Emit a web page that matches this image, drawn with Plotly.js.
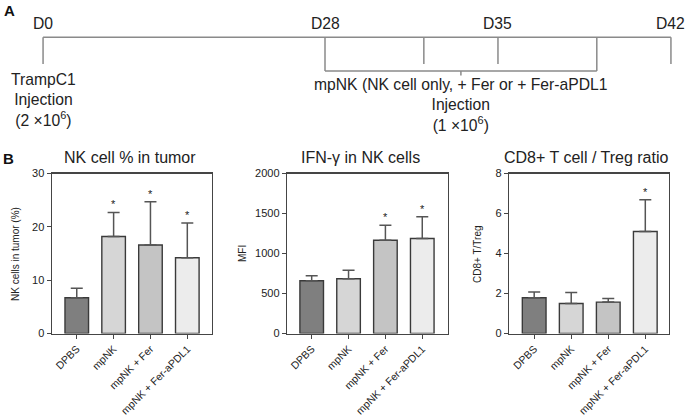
<!DOCTYPE html>
<html>
<head>
<meta charset="utf-8">
<script src="https://cdn.plot.ly/plotly-3.0.1.min.js"></script>
<style>html,body{margin:0;padding:0;background:#fff;}#chart{width:685px;height:419px;}</style>
</head>
<body>
<div id="chart"></div>
<script>
// ---- Data ----
const groups = ['DPBS', 'mpNK', 'mpNK + Fer', 'mpNK + Fer-aPDL1'];

const nkPct = [6.7, 18.2, 16.6, 14.2];
const nkPctErr = [1.8, 4.5, 8.1, 6.5];
const nkPctSig = [false, true, true, true];

const ifngMfi = [660, 685, 1165, 1187];
const ifngMfiErr = [63, 105, 188, 271];
const ifngSig = [false, false, true, true];

const cd8Treg = [1.79, 1.5, 1.57, 5.1];
const cd8TregErr = [0.29, 0.55, 0.18, 1.59];
const cd8Sig = [false, false, false, true];

const panelTitles = ['NK cell % in tumor', 'IFN-\u03b3 in NK cells', 'CD8+ T cell / Treg ratio'];
const yTitles = ['NK cells in tumor (%)', 'MFI', 'CD8+ T/Treg'];

// timeline (panel A)
const tlDays = [0, 28, 32, 35, 39, 42];
const tlLabels = ['D0', 'D28', '', 'D35', '', 'D42'];
const injectionDays = [28, 39];

// ---- Styling / layout ----
const W = 685, H = 419;
const FONT = 'Liberation Sans, Arial, Helvetica, sans-serif';
const barColors = ['#7f7f7f', '#d6d6d6', '#c4c4c4', '#ececec'];
const py = v => 1 - v / H;   // pixel-from-top to paper
const px = v => v / W;

// schematic timeline axis: D0 drawn before an axis break
const D0_POS = 16.59;
const tlPos = d => (d === 0 ? D0_POS : d);

const panels = [
  {y: nkPct, e: nkPctErr, sig: nkPctSig, range: [0, 30], dtick: 10, dom: [51.7, 212], xr: [-0.68, 3.67], ytx: 15, tx: 130},
  {y: ifngMfi, e: ifngMfiErr, sig: ifngSig, range: [0, 2000], dtick: 500, dom: [287, 447.7], xr: [-0.67, 3.69], ytx: 242, tx: 360},
  {y: cd8Treg, e: cd8TregErr, sig: cd8Sig, range: [0, 8], dtick: 2, dom: [509, 669], xr: [-0.68, 3.64], ytx: 477, tx: 586}
];

const data = [];
const layout = {
  width: W, height: H,
  margin: {l: 0, r: 0, t: 0, b: 0},
  paper_bgcolor: '#fff', plot_bgcolor: 'rgba(0,0,0,0)',
  showlegend: false,
  font: {family: FONT, color: '#222'},
  annotations: [], shapes: []
};

const yDom = [py(333.5), py(173.5)];

panels.forEach((p, i) => {
  const n = i + 1;
  const sfx = n === 1 ? '' : String(n);
  const xa = 'x' + sfx, ya = 'y' + sfx;
  data.push({
    type: 'bar', x: groups, y: p.y, xaxis: xa, yaxis: ya, width: 0.64,
    marker: {color: barColors, line: {color: '#3a3a3a', width: 1.4}},
    error_y: {type: 'data', symmetric: false, array: p.e, arrayminus: p.e.map(() => 0),
              color: '#555', thickness: 1.5, width: 6},
    hoverinfo: 'skip'
  });
  layout['xaxis' + sfx] = {
    domain: [px(p.dom[0]), px(p.dom[1])], anchor: ya, type: 'category', range: p.xr,
    showline: true, linecolor: '#454545', linewidth: 1.2, mirror: true,
    ticks: 'outside', ticklen: 4, tickcolor: '#454545', tickwidth: 1,
    tickangle: -45, tickfont: {size: 10.5, color: '#222', family: FONT},
    showgrid: false, zeroline: false, fixedrange: true
  };
  layout['yaxis' + sfx] = {
    domain: yDom, anchor: xa, range: p.range, dtick: p.dtick,
    showline: true, linecolor: '#454545', linewidth: 1.2, mirror: true,
    ticks: 'outside', ticklen: 4, tickcolor: '#454545', tickwidth: 1,
    tickfont: {size: 11, color: '#222', family: FONT},
    showgrid: false, zeroline: false, fixedrange: true
  };
  // significance stars
  groups.forEach((g, k) => {
    if (p.sig[k]) {
      layout.annotations.push({
        xref: xa, yref: ya, x: g, y: p.y[k] + p.e[k], text: '*', showarrow: false,
        yanchor: 'bottom', xanchor: 'center', yshift: 0,
        font: {size: 11, color: '#222', family: FONT}
      });
    }
  });
  // panel title
  layout.annotations.push({
    xref: 'paper', yref: 'paper', x: px(p.tx), y: py(157.5), xanchor: 'center', yanchor: 'middle',
    text: panelTitles[i], showarrow: false, font: {size: 16, color: '#222', family: FONT}
  });
  // y axis title
  layout.annotations.push({
    xref: 'paper', yref: 'paper', x: px(p.ytx), y: py(254), xanchor: 'center', yanchor: 'middle',
    text: yTitles[i], textangle: -90, showarrow: false, font: {size: 10, color: '#222', family: FONT}
  });
});

// ---- Timeline (panel A) on a hidden schematic day axis ----
const pxPerDay = 24.71;
const tlX0 = 28 - 325 / pxPerDay;
layout.xaxis4 = {domain: [0, 1], range: [tlX0, tlX0 + W / pxPerDay], visible: false, fixedrange: true, anchor: 'y4'};
layout.yaxis4 = {domain: [0, 1], range: [H, 0], visible: false, fixedrange: true, anchor: 'x4'};
data.push({type: 'scatter', mode: 'markers', x: [tlPos(tlDays[0])], y: [-50], xaxis: 'x4', yaxis: 'y4', hoverinfo: 'skip', marker: {opacity: 0}});

const TL_Y = 37.3, TICK_END = 64, BRACKET_Y = 71, BRACKET_TICK = 75.5;
const tlLine = {color: '#8a8a8a', width: 1.5};
const TLF = 15.7;
layout.shapes.push({type: 'line', xref: 'x4', yref: 'y4', x0: tlPos(tlDays[0]), x1: tlPos(tlDays[tlDays.length - 1]), y0: TL_Y, y1: TL_Y, line: tlLine});
tlDays.forEach((d, k) => {
  const isInj = injectionDays.includes(d);
  layout.shapes.push({type: 'line', xref: 'x4', yref: 'y4', x0: tlPos(d), x1: tlPos(d), y0: TL_Y, y1: isInj ? BRACKET_Y : TICK_END, line: tlLine});
  if (tlLabels[k]) {
    layout.annotations.push({xref: 'x4', yref: 'y4', x: tlPos(d), y: 23, text: tlLabels[k], showarrow: false,
      xanchor: 'center', yanchor: 'middle', font: {size: TLF, color: '#222', family: FONT}});
  }
});
const injMid = (injectionDays[0] + injectionDays[1]) / 2;
layout.shapes.push({type: 'line', xref: 'x4', yref: 'y4', x0: injectionDays[0], x1: injectionDays[1], y0: BRACKET_Y, y1: BRACKET_Y, line: tlLine});
layout.shapes.push({type: 'line', xref: 'x4', yref: 'y4', x0: injMid, x1: injMid, y0: BRACKET_Y, y1: BRACKET_TICK, line: tlLine});

layout.annotations.push({xref: 'x4', yref: 'y4', x: tlPos(0), y: 100, showarrow: false, xanchor: 'center', yanchor: 'middle',
  text: 'TrampC1<br>Injection<br>(2 \u00d710<sup>6</sup>)', font: {size: TLF, color: '#222', family: FONT}});
layout.annotations.push({xref: 'x4', yref: 'y4', x: injMid, y: 105, showarrow: false, xanchor: 'center', yanchor: 'middle',
  text: 'mpNK (NK cell only, + Fer or + Fer-aPDL1<br>Injection<br>(1 \u00d710<sup>6</sup>)', font: {size: TLF, color: '#222', family: FONT}});

// panel letters
layout.annotations.push({xref: 'paper', yref: 'paper', x: px(2), y: py(10), xanchor: 'left', yanchor: 'middle', showarrow: false,
  text: '<b>A</b>', font: {size: 15, color: '#111', family: FONT}});
layout.annotations.push({xref: 'paper', yref: 'paper', x: px(1), y: py(158), xanchor: 'left', yanchor: 'middle', showarrow: false,
  text: '<b>B</b>', font: {size: 15, color: '#111', family: FONT}});

Plotly.newPlot('chart', data, layout, {staticPlot: true, displayModeBar: false});
</script>
</body>
</html>
